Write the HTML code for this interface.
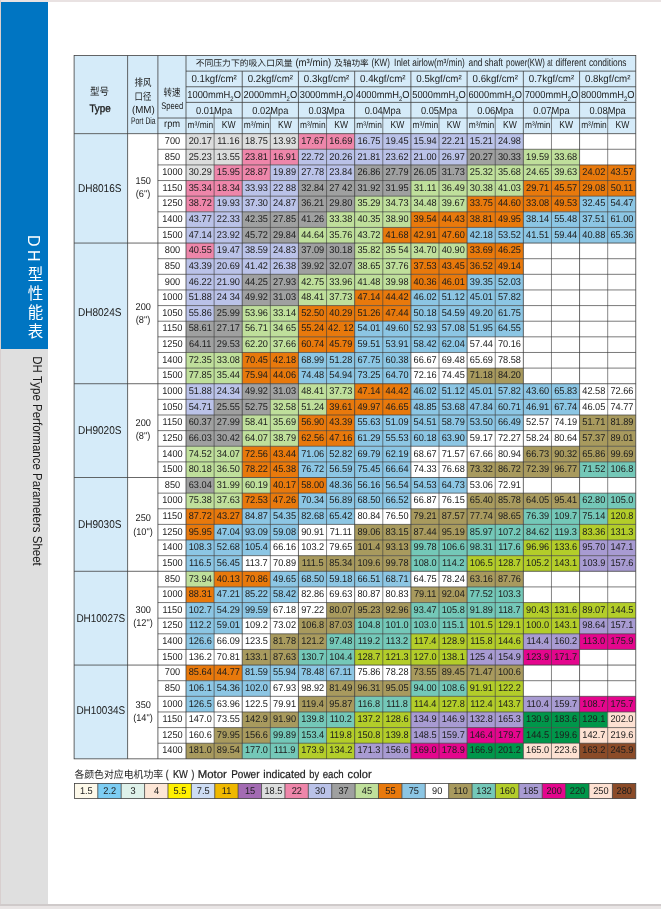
<!DOCTYPE html>
<html lang="zh-CN">
<head>
<meta charset="utf-8">
<title>DH型性能表 DH Type Performance Parameters Sheet</title>
<style>
html,body{margin:0;padding:0;background:#fff;}
body{width:661px;height:909px;overflow:hidden;position:relative;font-family:"Liberation Sans","Noto Sans CJK SC",sans-serif;}
svg{position:absolute;left:0;top:0;display:block;}
svg text{font-family:"Liberation Sans","Noto Sans CJK SC",sans-serif;text-rendering:geometricPrecision;}
.h9{font-size:9.6px}
.h8{font-size:8.5px}
.ht{font-size:10.6px}
.h10{font-size:10.2px}
.hb{font-size:11px;stroke:#1c1c1c;stroke-width:0.35px}
.d text{font-size:9.85px}
.d text.m{font-size:11.3px}
.lg{font-size:10.2px}
.ll{font-size:11.4px;stroke:#1c1c1c;stroke-width:0.22px}
.sb{font-size:13px}
.vt .la{font-size:16px;letter-spacing:3.4px;margin-inline-end:1.6px}
.vt{position:absolute;left:22.4px;top:235.4px;width:22px;writing-mode:vertical-rl;text-orientation:mixed;color:#fff;font-size:15.5px;line-height:22px;letter-spacing:3.6px;white-space:nowrap;}
</style>
</head>
<body>
<svg width="661" height="909" viewBox="0 0 661 909">
<g shape-rendering="crispEdges">
<rect x="0" y="0" width="661" height="909" fill="#ffffff"/>
<rect x="0" y="0" width="661" height="2" fill="#e9e2e2"/>
<rect x="0" y="0" width="1" height="909" fill="#d8cfcf"/>
<rect x="1" y="2" width="47" height="346.5" fill="#0075c2"/>
<rect x="1" y="348.5" width="47" height="556" fill="#dfdfdf"/>
<rect x="0" y="904" width="661" height="1.5" fill="#cfcaca"/>
<rect x="0" y="905.5" width="661" height="3.5" fill="#e9e5e5"/>
</g>
<g>
<rect x="74.1" y="55.5" width="561.7" height="78.15" fill="#d5ebf9"/>
<rect x="74.1" y="133.65" width="53.5" height="625.2" fill="#d5ebf9"/>
<rect x="186" y="133.65" width="112.45" height="15.63" fill="#dcdddd"/>
<rect x="298.45" y="133.65" width="56.22" height="15.63" fill="#ee86aa"/>
<rect x="354.67" y="133.65" width="168.67" height="15.63" fill="#bac2e8"/>
<rect x="186" y="149.28" width="56.22" height="15.63" fill="#dcdddd"/>
<rect x="242.22" y="149.28" width="56.22" height="15.63" fill="#ee86aa"/>
<rect x="298.45" y="149.28" width="168.67" height="15.63" fill="#bac2e8"/>
<rect x="467.12" y="149.28" width="56.22" height="15.63" fill="#9fa0a0"/>
<rect x="523.35" y="149.28" width="56.22" height="15.63" fill="#bfdf9b"/>
<rect x="186" y="164.91" width="28.11" height="15.63" fill="#dcdddd"/>
<rect x="214.11" y="164.91" width="56.22" height="15.63" fill="#ee86aa"/>
<rect x="270.34" y="164.91" width="84.34" height="15.63" fill="#bac2e8"/>
<rect x="354.67" y="164.91" width="112.45" height="15.63" fill="#9fa0a0"/>
<rect x="467.12" y="164.91" width="112.45" height="15.63" fill="#bfdf9b"/>
<rect x="579.57" y="164.91" width="56.22" height="15.63" fill="#e8790c"/>
<rect x="186" y="180.54" width="56.22" height="15.63" fill="#ee86aa"/>
<rect x="242.22" y="180.54" width="56.22" height="15.63" fill="#bac2e8"/>
<rect x="298.45" y="180.54" width="112.45" height="15.63" fill="#9fa0a0"/>
<rect x="410.9" y="180.54" width="112.45" height="15.63" fill="#bfdf9b"/>
<rect x="523.35" y="180.54" width="112.45" height="15.63" fill="#e8790c"/>
<rect x="186" y="196.17" width="28.11" height="15.63" fill="#ee86aa"/>
<rect x="214.11" y="196.17" width="84.34" height="15.63" fill="#bac2e8"/>
<rect x="298.45" y="196.17" width="56.22" height="15.63" fill="#9fa0a0"/>
<rect x="354.67" y="196.17" width="112.45" height="15.63" fill="#bfdf9b"/>
<rect x="467.12" y="196.17" width="112.45" height="15.63" fill="#e8790c"/>
<rect x="579.57" y="196.17" width="56.22" height="15.63" fill="#8cc6e4"/>
<rect x="186" y="211.8" width="56.22" height="15.63" fill="#bac2e8"/>
<rect x="242.22" y="211.8" width="84.34" height="15.63" fill="#9fa0a0"/>
<rect x="326.56" y="211.8" width="84.34" height="15.63" fill="#bfdf9b"/>
<rect x="410.9" y="211.8" width="112.45" height="15.63" fill="#e8790c"/>
<rect x="523.35" y="211.8" width="112.45" height="15.63" fill="#8cc6e4"/>
<rect x="186" y="227.43" width="56.22" height="15.63" fill="#bac2e8"/>
<rect x="242.22" y="227.43" width="56.22" height="15.63" fill="#9fa0a0"/>
<rect x="298.45" y="227.43" width="84.34" height="15.63" fill="#bfdf9b"/>
<rect x="382.79" y="227.43" width="84.34" height="15.63" fill="#e8790c"/>
<rect x="467.12" y="227.43" width="168.67" height="15.63" fill="#8cc6e4"/>
<rect x="186" y="243.06" width="28.11" height="15.63" fill="#ee86aa"/>
<rect x="214.11" y="243.06" width="84.34" height="15.63" fill="#bac2e8"/>
<rect x="298.45" y="243.06" width="56.22" height="15.63" fill="#9fa0a0"/>
<rect x="354.67" y="243.06" width="112.45" height="15.63" fill="#bfdf9b"/>
<rect x="467.12" y="243.06" width="56.22" height="15.63" fill="#e8790c"/>
<rect x="186" y="258.69" width="112.45" height="15.63" fill="#bac2e8"/>
<rect x="298.45" y="258.69" width="56.22" height="15.63" fill="#9fa0a0"/>
<rect x="354.67" y="258.69" width="56.22" height="15.63" fill="#bfdf9b"/>
<rect x="410.9" y="258.69" width="112.45" height="15.63" fill="#e8790c"/>
<rect x="186" y="274.32" width="56.22" height="15.63" fill="#bac2e8"/>
<rect x="242.22" y="274.32" width="56.22" height="15.63" fill="#9fa0a0"/>
<rect x="298.45" y="274.32" width="112.45" height="15.63" fill="#bfdf9b"/>
<rect x="410.9" y="274.32" width="56.22" height="15.63" fill="#e8790c"/>
<rect x="467.12" y="274.32" width="56.22" height="15.63" fill="#8cc6e4"/>
<rect x="186" y="289.95" width="56.22" height="15.63" fill="#bac2e8"/>
<rect x="242.22" y="289.95" width="56.22" height="15.63" fill="#9fa0a0"/>
<rect x="298.45" y="289.95" width="56.22" height="15.63" fill="#bfdf9b"/>
<rect x="354.67" y="289.95" width="56.22" height="15.63" fill="#e8790c"/>
<rect x="410.9" y="289.95" width="112.45" height="15.63" fill="#8cc6e4"/>
<rect x="186" y="305.58" width="28.11" height="15.63" fill="#bac2e8"/>
<rect x="214.11" y="305.58" width="28.11" height="15.63" fill="#9fa0a0"/>
<rect x="242.22" y="305.58" width="56.22" height="15.63" fill="#bfdf9b"/>
<rect x="298.45" y="305.58" width="112.45" height="15.63" fill="#e8790c"/>
<rect x="410.9" y="305.58" width="112.45" height="15.63" fill="#8cc6e4"/>
<rect x="186" y="321.21" width="56.22" height="15.63" fill="#9fa0a0"/>
<rect x="242.22" y="321.21" width="56.22" height="15.63" fill="#bfdf9b"/>
<rect x="298.45" y="321.21" width="56.22" height="15.63" fill="#e8790c"/>
<rect x="354.67" y="321.21" width="168.67" height="15.63" fill="#8cc6e4"/>
<rect x="186" y="336.84" width="56.22" height="15.63" fill="#9fa0a0"/>
<rect x="242.22" y="336.84" width="56.22" height="15.63" fill="#bfdf9b"/>
<rect x="298.45" y="336.84" width="56.22" height="15.63" fill="#e8790c"/>
<rect x="354.67" y="336.84" width="112.45" height="15.63" fill="#8cc6e4"/>
<rect x="186" y="352.47" width="56.22" height="15.63" fill="#bfdf9b"/>
<rect x="242.22" y="352.47" width="56.22" height="15.63" fill="#e8790c"/>
<rect x="298.45" y="352.47" width="112.45" height="15.63" fill="#8cc6e4"/>
<rect x="186" y="368.1" width="56.22" height="15.63" fill="#bfdf9b"/>
<rect x="242.22" y="368.1" width="56.22" height="15.63" fill="#e8790c"/>
<rect x="298.45" y="368.1" width="112.45" height="15.63" fill="#8cc6e4"/>
<rect x="467.12" y="368.1" width="56.22" height="15.63" fill="#a89a5e"/>
<rect x="186" y="383.73" width="56.22" height="15.63" fill="#bac2e8"/>
<rect x="242.22" y="383.73" width="56.22" height="15.63" fill="#9fa0a0"/>
<rect x="298.45" y="383.73" width="56.22" height="15.63" fill="#bfdf9b"/>
<rect x="354.67" y="383.73" width="56.22" height="15.63" fill="#e8790c"/>
<rect x="410.9" y="383.73" width="168.67" height="15.63" fill="#8cc6e4"/>
<rect x="186" y="399.36" width="28.11" height="15.63" fill="#bac2e8"/>
<rect x="214.11" y="399.36" width="56.22" height="15.63" fill="#9fa0a0"/>
<rect x="270.34" y="399.36" width="56.22" height="15.63" fill="#bfdf9b"/>
<rect x="326.56" y="399.36" width="84.34" height="15.63" fill="#e8790c"/>
<rect x="410.9" y="399.36" width="168.67" height="15.63" fill="#8cc6e4"/>
<rect x="186" y="414.99" width="56.22" height="15.63" fill="#9fa0a0"/>
<rect x="242.22" y="414.99" width="56.22" height="15.63" fill="#bfdf9b"/>
<rect x="298.45" y="414.99" width="56.22" height="15.63" fill="#e8790c"/>
<rect x="354.67" y="414.99" width="168.67" height="15.63" fill="#8cc6e4"/>
<rect x="579.57" y="414.99" width="56.22" height="15.63" fill="#a89a5e"/>
<rect x="186" y="430.62" width="56.22" height="15.63" fill="#9fa0a0"/>
<rect x="242.22" y="430.62" width="56.22" height="15.63" fill="#bfdf9b"/>
<rect x="298.45" y="430.62" width="56.22" height="15.63" fill="#e8790c"/>
<rect x="354.67" y="430.62" width="112.45" height="15.63" fill="#8cc6e4"/>
<rect x="579.57" y="430.62" width="56.22" height="15.63" fill="#a89a5e"/>
<rect x="186" y="446.25" width="56.22" height="15.63" fill="#bfdf9b"/>
<rect x="242.22" y="446.25" width="56.22" height="15.63" fill="#e8790c"/>
<rect x="298.45" y="446.25" width="112.45" height="15.63" fill="#8cc6e4"/>
<rect x="523.35" y="446.25" width="112.45" height="15.63" fill="#a89a5e"/>
<rect x="186" y="461.88" width="56.22" height="15.63" fill="#bfdf9b"/>
<rect x="242.22" y="461.88" width="56.22" height="15.63" fill="#e8790c"/>
<rect x="298.45" y="461.88" width="112.45" height="15.63" fill="#8cc6e4"/>
<rect x="467.12" y="461.88" width="112.45" height="15.63" fill="#a89a5e"/>
<rect x="579.57" y="461.88" width="56.22" height="15.63" fill="#74c8b8"/>
<rect x="186" y="477.51" width="28.11" height="15.63" fill="#9fa0a0"/>
<rect x="214.11" y="477.51" width="56.22" height="15.63" fill="#bfdf9b"/>
<rect x="270.34" y="477.51" width="56.22" height="15.63" fill="#e8790c"/>
<rect x="326.56" y="477.51" width="140.56" height="15.63" fill="#8cc6e4"/>
<rect x="186" y="493.14" width="56.22" height="15.63" fill="#bfdf9b"/>
<rect x="242.22" y="493.14" width="56.22" height="15.63" fill="#e8790c"/>
<rect x="298.45" y="493.14" width="112.45" height="15.63" fill="#8cc6e4"/>
<rect x="467.12" y="493.14" width="112.45" height="15.63" fill="#a89a5e"/>
<rect x="579.57" y="493.14" width="56.22" height="15.63" fill="#74c8b8"/>
<rect x="186" y="508.77" width="56.22" height="15.63" fill="#e8790c"/>
<rect x="242.22" y="508.77" width="112.45" height="15.63" fill="#8cc6e4"/>
<rect x="410.9" y="508.77" width="112.45" height="15.63" fill="#a89a5e"/>
<rect x="523.35" y="508.77" width="84.34" height="15.63" fill="#74c8b8"/>
<rect x="607.69" y="508.77" width="28.11" height="15.63" fill="#b3cd2a"/>
<rect x="186" y="524.4" width="28.11" height="15.63" fill="#e8790c"/>
<rect x="214.11" y="524.4" width="84.34" height="15.63" fill="#8cc6e4"/>
<rect x="354.67" y="524.4" width="112.45" height="15.63" fill="#a89a5e"/>
<rect x="467.12" y="524.4" width="112.45" height="15.63" fill="#74c8b8"/>
<rect x="579.57" y="524.4" width="56.22" height="15.63" fill="#b3cd2a"/>
<rect x="186" y="540.03" width="84.34" height="15.63" fill="#8cc6e4"/>
<rect x="354.67" y="540.03" width="56.22" height="15.63" fill="#a89a5e"/>
<rect x="410.9" y="540.03" width="112.45" height="15.63" fill="#74c8b8"/>
<rect x="523.35" y="540.03" width="56.22" height="15.63" fill="#b3cd2a"/>
<rect x="579.57" y="540.03" width="56.22" height="15.63" fill="#a89bd2"/>
<rect x="186" y="555.66" width="56.22" height="15.63" fill="#8cc6e4"/>
<rect x="298.45" y="555.66" width="112.45" height="15.63" fill="#a89a5e"/>
<rect x="410.9" y="555.66" width="56.22" height="15.63" fill="#74c8b8"/>
<rect x="467.12" y="555.66" width="112.45" height="15.63" fill="#b3cd2a"/>
<rect x="579.57" y="555.66" width="56.22" height="15.63" fill="#a89bd2"/>
<rect x="186" y="571.29" width="28.11" height="15.63" fill="#bfdf9b"/>
<rect x="214.11" y="571.29" width="56.22" height="15.63" fill="#e8790c"/>
<rect x="270.34" y="571.29" width="140.56" height="15.63" fill="#8cc6e4"/>
<rect x="467.12" y="571.29" width="56.22" height="15.63" fill="#a89a5e"/>
<rect x="186" y="586.92" width="28.11" height="15.63" fill="#e8790c"/>
<rect x="214.11" y="586.92" width="84.34" height="15.63" fill="#8cc6e4"/>
<rect x="410.9" y="586.92" width="56.22" height="15.63" fill="#a89a5e"/>
<rect x="467.12" y="586.92" width="56.22" height="15.63" fill="#74c8b8"/>
<rect x="186" y="602.55" width="84.34" height="15.63" fill="#8cc6e4"/>
<rect x="326.56" y="602.55" width="84.34" height="15.63" fill="#a89a5e"/>
<rect x="410.9" y="602.55" width="112.45" height="15.63" fill="#74c8b8"/>
<rect x="523.35" y="602.55" width="112.45" height="15.63" fill="#b3cd2a"/>
<rect x="186" y="618.18" width="56.22" height="15.63" fill="#8cc6e4"/>
<rect x="298.45" y="618.18" width="56.22" height="15.63" fill="#a89a5e"/>
<rect x="354.67" y="618.18" width="112.45" height="15.63" fill="#74c8b8"/>
<rect x="467.12" y="618.18" width="112.45" height="15.63" fill="#b3cd2a"/>
<rect x="579.57" y="618.18" width="56.22" height="15.63" fill="#a89bd2"/>
<rect x="186" y="633.81" width="28.11" height="15.63" fill="#8cc6e4"/>
<rect x="270.34" y="633.81" width="56.22" height="15.63" fill="#a89a5e"/>
<rect x="326.56" y="633.81" width="84.34" height="15.63" fill="#74c8b8"/>
<rect x="410.9" y="633.81" width="112.45" height="15.63" fill="#b3cd2a"/>
<rect x="523.35" y="633.81" width="56.22" height="15.63" fill="#a89bd2"/>
<rect x="579.57" y="633.81" width="56.22" height="15.63" fill="#e4068d"/>
<rect x="242.22" y="649.44" width="56.22" height="15.63" fill="#a89a5e"/>
<rect x="298.45" y="649.44" width="56.22" height="15.63" fill="#74c8b8"/>
<rect x="354.67" y="649.44" width="112.45" height="15.63" fill="#b3cd2a"/>
<rect x="467.12" y="649.44" width="56.22" height="15.63" fill="#a89bd2"/>
<rect x="523.35" y="649.44" width="56.22" height="15.63" fill="#e4068d"/>
<rect x="186" y="665.07" width="56.22" height="15.63" fill="#e8790c"/>
<rect x="242.22" y="665.07" width="112.45" height="15.63" fill="#8cc6e4"/>
<rect x="410.9" y="665.07" width="112.45" height="15.63" fill="#a89a5e"/>
<rect x="186" y="680.7" width="84.34" height="15.63" fill="#8cc6e4"/>
<rect x="326.56" y="680.7" width="84.34" height="15.63" fill="#a89a5e"/>
<rect x="410.9" y="680.7" width="56.22" height="15.63" fill="#74c8b8"/>
<rect x="467.12" y="680.7" width="56.22" height="15.63" fill="#b3cd2a"/>
<rect x="186" y="696.33" width="28.11" height="15.63" fill="#8cc6e4"/>
<rect x="298.45" y="696.33" width="56.22" height="15.63" fill="#a89a5e"/>
<rect x="354.67" y="696.33" width="56.22" height="15.63" fill="#74c8b8"/>
<rect x="410.9" y="696.33" width="112.45" height="15.63" fill="#b3cd2a"/>
<rect x="523.35" y="696.33" width="56.22" height="15.63" fill="#a89bd2"/>
<rect x="579.57" y="696.33" width="56.22" height="15.63" fill="#e4068d"/>
<rect x="242.22" y="711.96" width="56.22" height="15.63" fill="#a89a5e"/>
<rect x="298.45" y="711.96" width="56.22" height="15.63" fill="#74c8b8"/>
<rect x="354.67" y="711.96" width="56.22" height="15.63" fill="#b3cd2a"/>
<rect x="410.9" y="711.96" width="112.45" height="15.63" fill="#a89bd2"/>
<rect x="523.35" y="711.96" width="84.34" height="15.63" fill="#00964a"/>
<rect x="607.69" y="711.96" width="28.11" height="15.63" fill="#fde1d2"/>
<rect x="214.11" y="727.59" width="56.22" height="15.63" fill="#a89a5e"/>
<rect x="270.34" y="727.59" width="56.22" height="15.63" fill="#74c8b8"/>
<rect x="326.56" y="727.59" width="84.34" height="15.63" fill="#b3cd2a"/>
<rect x="410.9" y="727.59" width="56.22" height="15.63" fill="#a89bd2"/>
<rect x="467.12" y="727.59" width="56.22" height="15.63" fill="#e4068d"/>
<rect x="523.35" y="727.59" width="56.22" height="15.63" fill="#00964a"/>
<rect x="579.57" y="727.59" width="56.22" height="15.63" fill="#fde1d2"/>
<rect x="186" y="743.22" width="56.22" height="15.63" fill="#a89a5e"/>
<rect x="242.22" y="743.22" width="56.22" height="15.63" fill="#74c8b8"/>
<rect x="298.45" y="743.22" width="56.22" height="15.63" fill="#b3cd2a"/>
<rect x="354.67" y="743.22" width="56.22" height="15.63" fill="#a89bd2"/>
<rect x="410.9" y="743.22" width="56.22" height="15.63" fill="#e4068d"/>
<rect x="467.12" y="743.22" width="56.22" height="15.63" fill="#00964a"/>
<rect x="523.35" y="743.22" width="56.22" height="15.63" fill="#fde1d2"/>
<rect x="579.57" y="743.22" width="56.22" height="15.63" fill="#8b4b28"/>
</g>
<g stroke="#3c3c3c" stroke-width="0.78" fill="none">
<rect x="74.1" y="55.5" width="561.7" height="703.35"/>
<path d="M186 71.13L635.8 71.13"/>
<path d="M186 86.76L635.8 86.76"/>
<path d="M186 102.39L635.8 102.39"/>
<path d="M186 118.02L635.8 118.02"/>
<path d="M157.9 118.02L186 118.02"/>
<path d="M74.1 133.65L635.8 133.65"/>
<path d="M127.6 55.5L127.6 758.85"/>
<path d="M157.9 55.5L157.9 758.85"/>
<path d="M186 55.5L186 758.85"/>
<path d="M214.11 111.89L214.11 758.85" stroke-width="0.62"/>
<path d="M242.22 71.13L242.22 758.85"/>
<path d="M270.34 111.89L270.34 758.85" stroke-width="0.62"/>
<path d="M298.45 71.13L298.45 758.85"/>
<path d="M326.56 111.89L326.56 758.85" stroke-width="0.62"/>
<path d="M354.67 71.13L354.67 758.85"/>
<path d="M382.79 111.89L382.79 758.85" stroke-width="0.62"/>
<path d="M410.9 71.13L410.9 758.85"/>
<path d="M439.01 111.89L439.01 758.85" stroke-width="0.62"/>
<path d="M467.12 71.13L467.12 758.85"/>
<path d="M495.24 111.89L495.24 758.85" stroke-width="0.62"/>
<path d="M523.35 71.13L523.35 758.85"/>
<path d="M551.46 111.89L551.46 758.85" stroke-width="0.62"/>
<path d="M579.57 71.13L579.57 758.85"/>
<path d="M607.69 111.89L607.69 758.85" stroke-width="0.62"/>
<path d="M157.9 149.28L635.8 149.28" stroke-width="0.68"/>
<path d="M157.9 164.91L635.8 164.91" stroke-width="0.68"/>
<path d="M157.9 180.54L635.8 180.54" stroke-width="0.68"/>
<path d="M157.9 196.17L635.8 196.17" stroke-width="0.68"/>
<path d="M157.9 211.8L635.8 211.8" stroke-width="0.68"/>
<path d="M157.9 227.43L635.8 227.43" stroke-width="0.68"/>
<path d="M74.1 243.06L635.8 243.06"/>
<path d="M157.9 258.69L635.8 258.69" stroke-width="0.68"/>
<path d="M157.9 274.32L635.8 274.32" stroke-width="0.68"/>
<path d="M157.9 289.95L635.8 289.95" stroke-width="0.68"/>
<path d="M157.9 305.58L635.8 305.58" stroke-width="0.68"/>
<path d="M157.9 321.21L635.8 321.21" stroke-width="0.68"/>
<path d="M157.9 336.84L635.8 336.84" stroke-width="0.68"/>
<path d="M157.9 352.47L635.8 352.47" stroke-width="0.68"/>
<path d="M157.9 368.1L635.8 368.1" stroke-width="0.68"/>
<path d="M74.1 383.73L635.8 383.73"/>
<path d="M157.9 399.36L635.8 399.36" stroke-width="0.68"/>
<path d="M157.9 414.99L635.8 414.99" stroke-width="0.68"/>
<path d="M157.9 430.62L635.8 430.62" stroke-width="0.68"/>
<path d="M157.9 446.25L635.8 446.25" stroke-width="0.68"/>
<path d="M157.9 461.88L635.8 461.88" stroke-width="0.68"/>
<path d="M74.1 477.51L635.8 477.51"/>
<path d="M157.9 493.14L635.8 493.14" stroke-width="0.68"/>
<path d="M157.9 508.77L635.8 508.77" stroke-width="0.68"/>
<path d="M157.9 524.4L635.8 524.4" stroke-width="0.68"/>
<path d="M157.9 540.03L635.8 540.03" stroke-width="0.68"/>
<path d="M157.9 555.66L635.8 555.66" stroke-width="0.68"/>
<path d="M74.1 571.29L635.8 571.29"/>
<path d="M157.9 586.92L635.8 586.92" stroke-width="0.68"/>
<path d="M157.9 602.55L635.8 602.55" stroke-width="0.68"/>
<path d="M157.9 618.18L635.8 618.18" stroke-width="0.68"/>
<path d="M157.9 633.81L635.8 633.81" stroke-width="0.68"/>
<path d="M157.9 649.44L635.8 649.44" stroke-width="0.68"/>
<path d="M74.1 665.07L635.8 665.07"/>
<path d="M157.9 680.7L635.8 680.7" stroke-width="0.68"/>
<path d="M157.9 696.33L635.8 696.33" stroke-width="0.68"/>
<path d="M157.9 711.96L635.8 711.96" stroke-width="0.68"/>
<path d="M157.9 727.59L635.8 727.59" stroke-width="0.68"/>
<path d="M157.9 743.22L635.8 743.22" stroke-width="0.68"/>
</g>
<g fill="#1c1c1c">
<text x="195.7" y="66.13" class="h8" textLength="96.9" lengthAdjust="spacingAndGlyphs">不同压力下的吸入口风量</text>
<text x="295.4" y="66.13" class="ht" textLength="35.8" lengthAdjust="spacingAndGlyphs">(m³/min)</text>
<text x="334.3" y="66.13" class="h8" textLength="34.4" lengthAdjust="spacingAndGlyphs">及轴功率</text>
<text x="371.6" y="66.13" class="ht" textLength="18.2" lengthAdjust="spacingAndGlyphs">(KW)</text>
<text x="394.1" y="66.13" class="ht" textLength="15.8" lengthAdjust="spacingAndGlyphs">Inlet</text>
<text x="412.3" y="66.13" class="ht" textLength="52.5" lengthAdjust="spacingAndGlyphs">airlow(m³/min)</text>
<text x="468.5" y="66.13" class="ht" textLength="14" lengthAdjust="spacingAndGlyphs">and</text>
<text x="484.4" y="66.13" class="ht" textLength="18.6" lengthAdjust="spacingAndGlyphs">shaft</text>
<text x="506.1" y="66.13" class="ht" textLength="38.8" lengthAdjust="spacingAndGlyphs">power(KW)</text>
<text x="547.3" y="66.13" class="ht" textLength="5.3" lengthAdjust="spacingAndGlyphs">at</text>
<text x="555.5" y="66.13" class="ht" textLength="30.5" lengthAdjust="spacingAndGlyphs">different</text>
<text x="588.9" y="66.13" class="ht" textLength="37.6" lengthAdjust="spacingAndGlyphs">conditions</text>
<text x="191.41" y="82.46" class="h10" textLength="45.4" lengthAdjust="spacingAndGlyphs">0.1kgf/cm²</text>
<text x="187.31" y="97.79" class="h10" textLength="53.6" lengthAdjust="spacingAndGlyphs">1000mmH<tspan dy="2.8" font-size="6.5">2</tspan><tspan dy="-2.8">O</tspan></text>
<text x="196.01" y="113.72" class="h10" textLength="36.2" lengthAdjust="spacingAndGlyphs">0.01Mpa</text>
<text x="187.56" y="128.45" class="h9" textLength="25.6" lengthAdjust="spacingAndGlyphs">m³/min</text>
<text x="221.87" y="128.45" class="h10" textLength="13.8" lengthAdjust="spacingAndGlyphs">KW</text>
<text x="247.64" y="82.46" class="h10" textLength="45.4" lengthAdjust="spacingAndGlyphs">0.2kgf/cm²</text>
<text x="243.54" y="97.79" class="h10" textLength="53.6" lengthAdjust="spacingAndGlyphs">2000mmH<tspan dy="2.8" font-size="6.5">2</tspan><tspan dy="-2.8">O</tspan></text>
<text x="252.24" y="113.72" class="h10" textLength="36.2" lengthAdjust="spacingAndGlyphs">0.02Mpa</text>
<text x="243.78" y="128.45" class="h9" textLength="25.6" lengthAdjust="spacingAndGlyphs">m³/min</text>
<text x="278.09" y="128.45" class="h10" textLength="13.8" lengthAdjust="spacingAndGlyphs">KW</text>
<text x="303.86" y="82.46" class="h10" textLength="45.4" lengthAdjust="spacingAndGlyphs">0.3kgf/cm²</text>
<text x="299.76" y="97.79" class="h10" textLength="53.6" lengthAdjust="spacingAndGlyphs">3000mmH<tspan dy="2.8" font-size="6.5">2</tspan><tspan dy="-2.8">O</tspan></text>
<text x="308.46" y="113.72" class="h10" textLength="36.2" lengthAdjust="spacingAndGlyphs">0.03Mpa</text>
<text x="300.01" y="128.45" class="h9" textLength="25.6" lengthAdjust="spacingAndGlyphs">m³/min</text>
<text x="334.32" y="128.45" class="h10" textLength="13.8" lengthAdjust="spacingAndGlyphs">KW</text>
<text x="360.09" y="82.46" class="h10" textLength="45.4" lengthAdjust="spacingAndGlyphs">0.4kgf/cm²</text>
<text x="355.99" y="97.79" class="h10" textLength="53.6" lengthAdjust="spacingAndGlyphs">4000mmH<tspan dy="2.8" font-size="6.5">2</tspan><tspan dy="-2.8">O</tspan></text>
<text x="364.69" y="113.72" class="h10" textLength="36.2" lengthAdjust="spacingAndGlyphs">0.04Mpa</text>
<text x="356.23" y="128.45" class="h9" textLength="25.6" lengthAdjust="spacingAndGlyphs">m³/min</text>
<text x="390.54" y="128.45" class="h10" textLength="13.8" lengthAdjust="spacingAndGlyphs">KW</text>
<text x="416.31" y="82.46" class="h10" textLength="45.4" lengthAdjust="spacingAndGlyphs">0.5kgf/cm²</text>
<text x="412.21" y="97.79" class="h10" textLength="53.6" lengthAdjust="spacingAndGlyphs">5000mmH<tspan dy="2.8" font-size="6.5">2</tspan><tspan dy="-2.8">O</tspan></text>
<text x="420.91" y="113.72" class="h10" textLength="36.2" lengthAdjust="spacingAndGlyphs">0.05Mpa</text>
<text x="412.46" y="128.45" class="h9" textLength="25.6" lengthAdjust="spacingAndGlyphs">m³/min</text>
<text x="446.77" y="128.45" class="h10" textLength="13.8" lengthAdjust="spacingAndGlyphs">KW</text>
<text x="472.54" y="82.46" class="h10" textLength="45.4" lengthAdjust="spacingAndGlyphs">0.6kgf/cm²</text>
<text x="468.44" y="97.79" class="h10" textLength="53.6" lengthAdjust="spacingAndGlyphs">6000mmH<tspan dy="2.8" font-size="6.5">2</tspan><tspan dy="-2.8">O</tspan></text>
<text x="477.14" y="113.72" class="h10" textLength="36.2" lengthAdjust="spacingAndGlyphs">0.06Mpa</text>
<text x="468.68" y="128.45" class="h9" textLength="25.6" lengthAdjust="spacingAndGlyphs">m³/min</text>
<text x="502.99" y="128.45" class="h10" textLength="13.8" lengthAdjust="spacingAndGlyphs">KW</text>
<text x="528.76" y="82.46" class="h10" textLength="45.4" lengthAdjust="spacingAndGlyphs">0.7kgf/cm²</text>
<text x="524.66" y="97.79" class="h10" textLength="53.6" lengthAdjust="spacingAndGlyphs">7000mmH<tspan dy="2.8" font-size="6.5">2</tspan><tspan dy="-2.8">O</tspan></text>
<text x="533.36" y="113.72" class="h10" textLength="36.2" lengthAdjust="spacingAndGlyphs">0.07Mpa</text>
<text x="524.91" y="128.45" class="h9" textLength="25.6" lengthAdjust="spacingAndGlyphs">m³/min</text>
<text x="559.22" y="128.45" class="h10" textLength="13.8" lengthAdjust="spacingAndGlyphs">KW</text>
<text x="584.99" y="82.46" class="h10" textLength="45.4" lengthAdjust="spacingAndGlyphs">0.8kgf/cm²</text>
<text x="580.89" y="97.79" class="h10" textLength="53.6" lengthAdjust="spacingAndGlyphs">8000mmH<tspan dy="2.8" font-size="6.5">2</tspan><tspan dy="-2.8">O</tspan></text>
<text x="589.59" y="113.72" class="h10" textLength="36.2" lengthAdjust="spacingAndGlyphs">0.08Mpa</text>
<text x="581.13" y="128.45" class="h9" textLength="25.6" lengthAdjust="spacingAndGlyphs">m³/min</text>
<text x="615.44" y="128.45" class="h10" textLength="13.8" lengthAdjust="spacingAndGlyphs">KW</text>
<text x="90.1" y="95.4" class="h10" textLength="19" lengthAdjust="spacingAndGlyphs">型号</text>
<text x="89.4" y="112.1" class="hb" textLength="21.4" lengthAdjust="spacingAndGlyphs">Type</text>
<text x="134.5" y="86.2" class="h10" textLength="16.8" lengthAdjust="spacingAndGlyphs">排风</text>
<text x="134.5" y="99.5" class="h10" textLength="16.8" lengthAdjust="spacingAndGlyphs">口径</text>
<text x="131.9" y="112.9" class="h10" textLength="22.8" lengthAdjust="spacingAndGlyphs">(MM)</text>
<text x="131" y="123.6" class="h9" textLength="24.6" lengthAdjust="spacingAndGlyphs">Port Dia</text>
<text x="163.5" y="96" class="h10" textLength="17" lengthAdjust="spacingAndGlyphs">转速</text>
<text x="161.2" y="108.6" class="h9" textLength="22" lengthAdjust="spacingAndGlyphs">Speed</text>
<text x="164" y="126.6" class="h10" textLength="16.2" lengthAdjust="spacingAndGlyphs">rpm</text>
</g>
<g class="d" fill="#1c1c1c" text-anchor="middle" transform="scale(0.935 1)">
<text class="m" text-anchor="start" x="83.32" y="191.81" textLength="46.63" lengthAdjust="spacingAndGlyphs">DH8016S</text>
<text x="153.16" y="183.51">150</text>
<text x="152.94" y="196.71">(6")</text>
<text x="184.44" y="143.91">700</text>
<text x="214.18" y="143.91">20.17</text>
<text x="244.24" y="143.91">11.16</text>
<text x="274.31" y="143.91">18.75</text>
<text x="304.38" y="143.91">13.93</text>
<text x="334.45" y="143.91">17.67</text>
<text x="364.51" y="143.91">16.69</text>
<text x="394.58" y="143.91">16.75</text>
<text x="424.65" y="143.91">19.45</text>
<text x="454.71" y="143.91">15.94</text>
<text x="484.78" y="143.91">22.21</text>
<text x="514.85" y="143.91">15.21</text>
<text x="544.91" y="143.91">24.98</text>
<text x="184.44" y="159.54">850</text>
<text x="214.18" y="159.54">25.23</text>
<text x="244.24" y="159.54">13.55</text>
<text x="274.31" y="159.54">23.81</text>
<text x="304.38" y="159.54">16.91</text>
<text x="334.45" y="159.54">22.72</text>
<text x="364.51" y="159.54">20.26</text>
<text x="394.58" y="159.54">21.81</text>
<text x="424.65" y="159.54">23.62</text>
<text x="454.71" y="159.54">21.00</text>
<text x="484.78" y="159.54">26.97</text>
<text x="514.85" y="159.54">20.27</text>
<text x="544.91" y="159.54">30.33</text>
<text x="574.98" y="159.54">19.59</text>
<text x="605.05" y="159.54">33.68</text>
<text x="184.44" y="175.17">1000</text>
<text x="214.18" y="175.17">30.29</text>
<text x="244.24" y="175.17">15.95</text>
<text x="274.31" y="175.17">28.87</text>
<text x="304.38" y="175.17">19.89</text>
<text x="334.45" y="175.17">27.78</text>
<text x="364.51" y="175.17">23.84</text>
<text x="394.58" y="175.17">26.86</text>
<text x="424.65" y="175.17">27.79</text>
<text x="454.71" y="175.17">26.05</text>
<text x="484.78" y="175.17">31.73</text>
<text x="514.85" y="175.17">25.32</text>
<text x="544.91" y="175.17">35.68</text>
<text x="574.98" y="175.17">24.65</text>
<text x="605.05" y="175.17">39.63</text>
<text x="635.11" y="175.17">24.02</text>
<text x="665.18" y="175.17">43.57</text>
<text x="184.44" y="190.81">1150</text>
<text x="214.18" y="190.81">35.34</text>
<text x="244.24" y="190.81">18.34</text>
<text x="274.31" y="190.81">33.93</text>
<text x="304.38" y="190.81">22 88</text>
<text x="334.45" y="190.81">32.84</text>
<text x="364.51" y="190.81">27 42</text>
<text x="394.58" y="190.81">31.92</text>
<text x="424.65" y="190.81">31.95</text>
<text x="454.71" y="190.81">31.11</text>
<text x="484.78" y="190.81">36.49</text>
<text x="514.85" y="190.81">30.38</text>
<text x="544.91" y="190.81">41.03</text>
<text x="574.98" y="190.81">29.71</text>
<text x="605.05" y="190.81">45.57</text>
<text x="635.11" y="190.81">29.08</text>
<text x="665.18" y="190.81">50.11</text>
<text x="184.44" y="206.44">1250</text>
<text x="214.18" y="206.44">38.72</text>
<text x="244.24" y="206.44">19.93</text>
<text x="274.31" y="206.44">37.30</text>
<text x="304.38" y="206.44">24.87</text>
<text x="334.45" y="206.44">36.21</text>
<text x="364.51" y="206.44">29.80</text>
<text x="394.58" y="206.44">35.29</text>
<text x="424.65" y="206.44">34.73</text>
<text x="454.71" y="206.44">34.48</text>
<text x="484.78" y="206.44">39.67</text>
<text x="514.85" y="206.44">33.75</text>
<text x="544.91" y="206.44">44.60</text>
<text x="574.98" y="206.44">33.08</text>
<text x="605.05" y="206.44">49.53</text>
<text x="635.11" y="206.44">32.45</text>
<text x="665.18" y="206.44">54.47</text>
<text x="184.44" y="222.06">1400</text>
<text x="214.18" y="222.06">43.77</text>
<text x="244.24" y="222.06">22.33</text>
<text x="274.31" y="222.06">42.35</text>
<text x="304.38" y="222.06">27.85</text>
<text x="334.45" y="222.06">41.26</text>
<text x="364.51" y="222.06">33.38</text>
<text x="394.58" y="222.06">40.35</text>
<text x="424.65" y="222.06">38.90</text>
<text x="454.71" y="222.06">39.54</text>
<text x="484.78" y="222.06">44.43</text>
<text x="514.85" y="222.06">38.81</text>
<text x="544.91" y="222.06">49.95</text>
<text x="574.98" y="222.06">38.14</text>
<text x="605.05" y="222.06">55.48</text>
<text x="635.11" y="222.06">37.51</text>
<text x="665.18" y="222.06">61.00</text>
<text x="184.44" y="237.69">1500</text>
<text x="214.18" y="237.69">47.14</text>
<text x="244.24" y="237.69">23.92</text>
<text x="274.31" y="237.69">45.72</text>
<text x="304.38" y="237.69">29.84</text>
<text x="334.45" y="237.69">44.64</text>
<text x="364.51" y="237.69">35.76</text>
<text x="394.58" y="237.69">43.72</text>
<text x="424.65" y="237.69">41.68</text>
<text x="454.71" y="237.69">42.91</text>
<text x="484.78" y="237.69">47.60</text>
<text x="514.85" y="237.69">42.18</text>
<text x="544.91" y="237.69">53.52</text>
<text x="574.98" y="237.69">41.51</text>
<text x="605.05" y="237.69">59.44</text>
<text x="635.11" y="237.69">40.88</text>
<text x="665.18" y="237.69">65.36</text>
<text class="m" text-anchor="start" x="83.32" y="316.44" textLength="46.63" lengthAdjust="spacingAndGlyphs">DH8024S</text>
<text x="153.16" y="309.89">200</text>
<text x="152.94" y="323.19">(8")</text>
<text x="184.44" y="253.32">800</text>
<text x="214.18" y="253.32">40.55</text>
<text x="244.24" y="253.32">19.47</text>
<text x="274.31" y="253.32">38.59</text>
<text x="304.38" y="253.32">24.83</text>
<text x="334.45" y="253.32">37.09</text>
<text x="364.51" y="253.32">30.18</text>
<text x="394.58" y="253.32">35.82</text>
<text x="424.65" y="253.32">35 54</text>
<text x="454.71" y="253.32">34.70</text>
<text x="484.78" y="253.32">40.90</text>
<text x="514.85" y="253.32">33.69</text>
<text x="544.91" y="253.32">46.25</text>
<text x="184.44" y="268.95">850</text>
<text x="214.18" y="268.95">43.39</text>
<text x="244.24" y="268.95">20.69</text>
<text x="274.31" y="268.95">41.42</text>
<text x="304.38" y="268.95">26.38</text>
<text x="334.45" y="268.95">39.92</text>
<text x="364.51" y="268.95">32.07</text>
<text x="394.58" y="268.95">38.65</text>
<text x="424.65" y="268.95">37.76</text>
<text x="454.71" y="268.95">37.53</text>
<text x="484.78" y="268.95">43.45</text>
<text x="514.85" y="268.95">36.52</text>
<text x="544.91" y="268.95">49.14</text>
<text x="184.44" y="284.59">900</text>
<text x="214.18" y="284.59">46.22</text>
<text x="244.24" y="284.59">21.90</text>
<text x="274.31" y="284.59">44.25</text>
<text x="304.38" y="284.59">27.93</text>
<text x="334.45" y="284.59">42.75</text>
<text x="364.51" y="284.59">33.96</text>
<text x="394.58" y="284.59">41.48</text>
<text x="424.65" y="284.59">39.98</text>
<text x="454.71" y="284.59">40.36</text>
<text x="484.78" y="284.59">46.01</text>
<text x="514.85" y="284.59">39.35</text>
<text x="544.91" y="284.59">52.03</text>
<text x="184.44" y="300.22">1000</text>
<text x="214.18" y="300.22">51.88</text>
<text x="244.24" y="300.22">24 34</text>
<text x="274.31" y="300.22">49.92</text>
<text x="304.38" y="300.22">31.03</text>
<text x="334.45" y="300.22">48.41</text>
<text x="364.51" y="300.22">37.73</text>
<text x="394.58" y="300.22">47.14</text>
<text x="424.65" y="300.22">44.42</text>
<text x="454.71" y="300.22">46.02</text>
<text x="484.78" y="300.22">51.12</text>
<text x="514.85" y="300.22">45.01</text>
<text x="544.91" y="300.22">57.82</text>
<text x="184.44" y="315.85">1050</text>
<text x="214.18" y="315.85">55.86</text>
<text x="244.24" y="315.85">25.99</text>
<text x="274.31" y="315.85">53.96</text>
<text x="304.38" y="315.85">33.14</text>
<text x="334.45" y="315.85">52.50</text>
<text x="364.51" y="315.85">40.29</text>
<text x="394.58" y="315.85">51.26</text>
<text x="424.65" y="315.85">47.44</text>
<text x="454.71" y="315.85">50.18</text>
<text x="484.78" y="315.85">54.59</text>
<text x="514.85" y="315.85">49.20</text>
<text x="544.91" y="315.85">61.75</text>
<text x="184.44" y="331.48">1150</text>
<text x="214.18" y="331.48">58.61</text>
<text x="244.24" y="331.48">27.17</text>
<text x="274.31" y="331.48">56.71</text>
<text x="304.38" y="331.48">34 65</text>
<text x="334.45" y="331.48">55.24</text>
<text x="364.51" y="331.48">42. 12</text>
<text x="394.58" y="331.48">54.01</text>
<text x="424.65" y="331.48">49.60</text>
<text x="454.71" y="331.48">52.93</text>
<text x="484.78" y="331.48">57.08</text>
<text x="514.85" y="331.48">51.95</text>
<text x="544.91" y="331.48">64.55</text>
<text x="184.44" y="347.11">1250</text>
<text x="214.18" y="347.11">64.11</text>
<text x="244.24" y="347.11">29.53</text>
<text x="274.31" y="347.11">62.20</text>
<text x="304.38" y="347.11">37.66</text>
<text x="334.45" y="347.11">60.74</text>
<text x="364.51" y="347.11">45.79</text>
<text x="394.58" y="347.11">59.51</text>
<text x="424.65" y="347.11">53.91</text>
<text x="454.71" y="347.11">58.42</text>
<text x="484.78" y="347.11">62.04</text>
<text x="514.85" y="347.11">57.44</text>
<text x="544.91" y="347.11">70.16</text>
<text x="184.44" y="362.74">1400</text>
<text x="214.18" y="362.74">72.35</text>
<text x="244.24" y="362.74">33.08</text>
<text x="274.31" y="362.74">70.45</text>
<text x="304.38" y="362.74">42.18</text>
<text x="334.45" y="362.74">68.99</text>
<text x="364.51" y="362.74">51.28</text>
<text x="394.58" y="362.74">67.75</text>
<text x="424.65" y="362.74">60.38</text>
<text x="454.71" y="362.74">66.67</text>
<text x="484.78" y="362.74">69.48</text>
<text x="514.85" y="362.74">65.69</text>
<text x="544.91" y="362.74">78.58</text>
<text x="184.44" y="378.37">1500</text>
<text x="214.18" y="378.37">77.85</text>
<text x="244.24" y="378.37">35.44</text>
<text x="274.31" y="378.37">75.94</text>
<text x="304.38" y="378.37">44.06</text>
<text x="334.45" y="378.37">74.48</text>
<text x="364.51" y="378.37">54.94</text>
<text x="394.58" y="378.37">73.25</text>
<text x="424.65" y="378.37">64.70</text>
<text x="454.71" y="378.37">72.16</text>
<text x="484.78" y="378.37">74.45</text>
<text x="514.85" y="378.37">71.18</text>
<text x="544.91" y="378.37">84.20</text>
<text class="m" text-anchor="start" x="83.32" y="434.12" textLength="46.63" lengthAdjust="spacingAndGlyphs">DH9020S</text>
<text x="153.16" y="425.62">200</text>
<text x="152.94" y="439.42">(8")</text>
<text x="184.44" y="394">1000</text>
<text x="214.18" y="394">51.88</text>
<text x="244.24" y="394">24.34</text>
<text x="274.31" y="394">49.92</text>
<text x="304.38" y="394">31.03</text>
<text x="334.45" y="394">48.41</text>
<text x="364.51" y="394">37.73</text>
<text x="394.58" y="394">47.14</text>
<text x="424.65" y="394">44.42</text>
<text x="454.71" y="394">46.02</text>
<text x="484.78" y="394">51.12</text>
<text x="514.85" y="394">45.01</text>
<text x="544.91" y="394">57.82</text>
<text x="574.98" y="394">43.60</text>
<text x="605.05" y="394">65.83</text>
<text x="635.11" y="394">42.58</text>
<text x="665.18" y="394">72.66</text>
<text x="184.44" y="409.62">1050</text>
<text x="214.18" y="409.62">54.71</text>
<text x="244.24" y="409.62">25.55</text>
<text x="274.31" y="409.62">52.75</text>
<text x="304.38" y="409.62">32.58</text>
<text x="334.45" y="409.62">51.24</text>
<text x="364.51" y="409.62">39.61</text>
<text x="394.58" y="409.62">49.97</text>
<text x="424.65" y="409.62">46.65</text>
<text x="454.71" y="409.62">48.85</text>
<text x="484.78" y="409.62">53.68</text>
<text x="514.85" y="409.62">47.84</text>
<text x="544.91" y="409.62">60.71</text>
<text x="574.98" y="409.62">46.91</text>
<text x="605.05" y="409.62">67.74</text>
<text x="635.11" y="409.62">46.05</text>
<text x="665.18" y="409.62">74.77</text>
<text x="184.44" y="425.25">1150</text>
<text x="214.18" y="425.25">60.37</text>
<text x="244.24" y="425.25">27.99</text>
<text x="274.31" y="425.25">58.41</text>
<text x="304.38" y="425.25">35.69</text>
<text x="334.45" y="425.25">56.90</text>
<text x="364.51" y="425.25">43.39</text>
<text x="394.58" y="425.25">55.63</text>
<text x="424.65" y="425.25">51.09</text>
<text x="454.71" y="425.25">54.51</text>
<text x="484.78" y="425.25">58.79</text>
<text x="514.85" y="425.25">53.50</text>
<text x="544.91" y="425.25">66.49</text>
<text x="574.98" y="425.25">52.57</text>
<text x="605.05" y="425.25">74.19</text>
<text x="635.11" y="425.25">51.71</text>
<text x="665.18" y="425.25">81.89</text>
<text x="184.44" y="440.88">1250</text>
<text x="214.18" y="440.88">66.03</text>
<text x="244.24" y="440.88">30.42</text>
<text x="274.31" y="440.88">64.07</text>
<text x="304.38" y="440.88">38.79</text>
<text x="334.45" y="440.88">62.56</text>
<text x="364.51" y="440.88">47.16</text>
<text x="394.58" y="440.88">61.29</text>
<text x="424.65" y="440.88">55.53</text>
<text x="454.71" y="440.88">60.18</text>
<text x="484.78" y="440.88">63.90</text>
<text x="514.85" y="440.88">59.17</text>
<text x="544.91" y="440.88">72.27</text>
<text x="574.98" y="440.88">58.24</text>
<text x="605.05" y="440.88">80.64</text>
<text x="635.11" y="440.88">57.37</text>
<text x="665.18" y="440.88">89.01</text>
<text x="184.44" y="456.51">1400</text>
<text x="214.18" y="456.51">74.52</text>
<text x="244.24" y="456.51">34.07</text>
<text x="274.31" y="456.51">72.56</text>
<text x="304.38" y="456.51">43.44</text>
<text x="334.45" y="456.51">71.06</text>
<text x="364.51" y="456.51">52.82</text>
<text x="394.58" y="456.51">69.79</text>
<text x="424.65" y="456.51">62.19</text>
<text x="454.71" y="456.51">68.67</text>
<text x="484.78" y="456.51">71.57</text>
<text x="514.85" y="456.51">67.66</text>
<text x="544.91" y="456.51">80.94</text>
<text x="574.98" y="456.51">66.73</text>
<text x="605.05" y="456.51">90.32</text>
<text x="635.11" y="456.51">65.86</text>
<text x="665.18" y="456.51">99.69</text>
<text x="184.44" y="472.14">1500</text>
<text x="214.18" y="472.14">80.18</text>
<text x="244.24" y="472.14">36.50</text>
<text x="274.31" y="472.14">78.22</text>
<text x="304.38" y="472.14">45.38</text>
<text x="334.45" y="472.14">76.72</text>
<text x="364.51" y="472.14">56.59</text>
<text x="394.58" y="472.14">75.45</text>
<text x="424.65" y="472.14">66.64</text>
<text x="454.71" y="472.14">74.33</text>
<text x="484.78" y="472.14">76.68</text>
<text x="514.85" y="472.14">73.32</text>
<text x="544.91" y="472.14">86.72</text>
<text x="574.98" y="472.14">72.39</text>
<text x="605.05" y="472.14">96.77</text>
<text x="635.11" y="472.14">71.52</text>
<text x="665.18" y="472.14">106.8</text>
<text class="m" text-anchor="start" x="83.32" y="527.7" textLength="46.63" lengthAdjust="spacingAndGlyphs">DH9030S</text>
<text x="153.16" y="520.8">250</text>
<text x="152.94" y="534.6">(10")</text>
<text x="184.44" y="487.77">850</text>
<text x="214.18" y="487.77">63.04</text>
<text x="244.24" y="487.77">31.99</text>
<text x="274.31" y="487.77">60.19</text>
<text x="304.38" y="487.77">40.17</text>
<text x="334.45" y="487.77">58.00</text>
<text x="364.51" y="487.77">48.36</text>
<text x="394.58" y="487.77">56.16</text>
<text x="424.65" y="487.77">56.54</text>
<text x="454.71" y="487.77">54.53</text>
<text x="484.78" y="487.77">64.73</text>
<text x="514.85" y="487.77">53.06</text>
<text x="544.91" y="487.77">72.91</text>
<text x="184.44" y="503.4">1000</text>
<text x="214.18" y="503.4">75.38</text>
<text x="244.24" y="503.4">37.63</text>
<text x="274.31" y="503.4">72.53</text>
<text x="304.38" y="503.4">47.26</text>
<text x="334.45" y="503.4">70.34</text>
<text x="364.51" y="503.4">56.89</text>
<text x="394.58" y="503.4">68.50</text>
<text x="424.65" y="503.4">66.52</text>
<text x="454.71" y="503.4">66.87</text>
<text x="484.78" y="503.4">76.15</text>
<text x="514.85" y="503.4">65.40</text>
<text x="544.91" y="503.4">85.78</text>
<text x="574.98" y="503.4">64.05</text>
<text x="605.05" y="503.4">95.41</text>
<text x="635.11" y="503.4">62.80</text>
<text x="665.18" y="503.4">105.0</text>
<text x="184.44" y="519.04">1150</text>
<text x="214.18" y="519.04">87.72</text>
<text x="244.24" y="519.04">43.27</text>
<text x="274.31" y="519.04">84.87</text>
<text x="304.38" y="519.04">54.35</text>
<text x="334.45" y="519.04">82.68</text>
<text x="364.51" y="519.04">65.42</text>
<text x="394.58" y="519.04">80.84</text>
<text x="424.65" y="519.04">76.50</text>
<text x="454.71" y="519.04">79.21</text>
<text x="484.78" y="519.04">87.57</text>
<text x="514.85" y="519.04">77.74</text>
<text x="544.91" y="519.04">98.65</text>
<text x="574.98" y="519.04">76.39</text>
<text x="605.05" y="519.04">109.7</text>
<text x="635.11" y="519.04">75.14</text>
<text x="665.18" y="519.04">120.8</text>
<text x="184.44" y="534.67">1250</text>
<text x="214.18" y="534.67">95.95</text>
<text x="244.24" y="534.67">47.04</text>
<text x="274.31" y="534.67">93.09</text>
<text x="304.38" y="534.67">59.08</text>
<text x="334.45" y="534.67">90.91</text>
<text x="364.51" y="534.67">71.11</text>
<text x="394.58" y="534.67">89.06</text>
<text x="424.65" y="534.67">83.15</text>
<text x="454.71" y="534.67">87.44</text>
<text x="484.78" y="534.67">95.19</text>
<text x="514.85" y="534.67">85.97</text>
<text x="544.91" y="534.67">107.2</text>
<text x="574.98" y="534.67">84.62</text>
<text x="605.05" y="534.67">119.3</text>
<text x="635.11" y="534.67">83.36</text>
<text x="665.18" y="534.67">131.3</text>
<text x="184.44" y="550.3">1400</text>
<text x="214.18" y="550.3">108.3</text>
<text x="244.24" y="550.3">52.68</text>
<text x="274.31" y="550.3">105.4</text>
<text x="304.38" y="550.3">66.16</text>
<text x="334.45" y="550.3">103.2</text>
<text x="364.51" y="550.3">79.65</text>
<text x="394.58" y="550.3">101.4</text>
<text x="424.65" y="550.3">93.13</text>
<text x="454.71" y="550.3">99.78</text>
<text x="484.78" y="550.3">106.6</text>
<text x="514.85" y="550.3">98.31</text>
<text x="544.91" y="550.3">117.6</text>
<text x="574.98" y="550.3">96.96</text>
<text x="605.05" y="550.3">133.6</text>
<text x="635.11" y="550.3">95.70</text>
<text x="665.18" y="550.3">147.1</text>
<text x="184.44" y="565.93">1500</text>
<text x="214.18" y="565.93">116.5</text>
<text x="244.24" y="565.93">56.45</text>
<text x="274.31" y="565.93">113.7</text>
<text x="304.38" y="565.93">70.89</text>
<text x="334.45" y="565.93">111.5</text>
<text x="364.51" y="565.93">85.34</text>
<text x="394.58" y="565.93">109.6</text>
<text x="424.65" y="565.93">99.78</text>
<text x="454.71" y="565.93">108.0</text>
<text x="484.78" y="565.93">114.2</text>
<text x="514.85" y="565.93">106.5</text>
<text x="544.91" y="565.93">128.7</text>
<text x="574.98" y="565.93">105.2</text>
<text x="605.05" y="565.93">143.1</text>
<text x="635.11" y="565.93">103.9</text>
<text x="665.18" y="565.93">157.6</text>
<text class="m" text-anchor="start" x="81.71" y="622.08" textLength="52.09" lengthAdjust="spacingAndGlyphs">DH10027S</text>
<text x="153.16" y="612.98">300</text>
<text x="152.94" y="626.48">(12")</text>
<text x="184.44" y="581.56">850</text>
<text x="214.18" y="581.56">73.94</text>
<text x="244.24" y="581.56">40.13</text>
<text x="274.31" y="581.56">70.86</text>
<text x="304.38" y="581.56">49.65</text>
<text x="334.45" y="581.56">68.50</text>
<text x="364.51" y="581.56">59.18</text>
<text x="394.58" y="581.56">66.51</text>
<text x="424.65" y="581.56">68.71</text>
<text x="454.71" y="581.56">64.75</text>
<text x="484.78" y="581.56">78.24</text>
<text x="514.85" y="581.56">63.16</text>
<text x="544.91" y="581.56">87.76</text>
<text x="184.44" y="597.19">1000</text>
<text x="214.18" y="597.19">88.31</text>
<text x="244.24" y="597.19">47.21</text>
<text x="274.31" y="597.19">85.22</text>
<text x="304.38" y="597.19">58.42</text>
<text x="334.45" y="597.19">82.86</text>
<text x="364.51" y="597.19">69.63</text>
<text x="394.58" y="597.19">80.87</text>
<text x="424.65" y="597.19">80.83</text>
<text x="454.71" y="597.19">79.11</text>
<text x="484.78" y="597.19">92.04</text>
<text x="514.85" y="597.19">77.52</text>
<text x="544.91" y="597.19">103.3</text>
<text x="184.44" y="612.82">1150</text>
<text x="214.18" y="612.82">102.7</text>
<text x="244.24" y="612.82">54.29</text>
<text x="274.31" y="612.82">99.59</text>
<text x="304.38" y="612.82">67.18</text>
<text x="334.45" y="612.82">97.22</text>
<text x="364.51" y="612.82">80.07</text>
<text x="394.58" y="612.82">95.23</text>
<text x="424.65" y="612.82">92.96</text>
<text x="454.71" y="612.82">93.47</text>
<text x="484.78" y="612.82">105.8</text>
<text x="514.85" y="612.82">91.89</text>
<text x="544.91" y="612.82">118.7</text>
<text x="574.98" y="612.82">90.43</text>
<text x="605.05" y="612.82">131.6</text>
<text x="635.11" y="612.82">89.07</text>
<text x="665.18" y="612.82">144.5</text>
<text x="184.44" y="628.45">1250</text>
<text x="214.18" y="628.45">112.2</text>
<text x="244.24" y="628.45">59.01</text>
<text x="274.31" y="628.45">109.2</text>
<text x="304.38" y="628.45">73.02</text>
<text x="334.45" y="628.45">106.8</text>
<text x="364.51" y="628.45">87.03</text>
<text x="394.58" y="628.45">104.8</text>
<text x="424.65" y="628.45">101.0</text>
<text x="454.71" y="628.45">103.0</text>
<text x="484.78" y="628.45">115.1</text>
<text x="514.85" y="628.45">101.5</text>
<text x="544.91" y="628.45">129.1</text>
<text x="574.98" y="628.45">100.0</text>
<text x="605.05" y="628.45">143.1</text>
<text x="635.11" y="628.45">98.64</text>
<text x="665.18" y="628.45">157.1</text>
<text x="184.44" y="644.08">1400</text>
<text x="214.18" y="644.08">126.6</text>
<text x="244.24" y="644.08">66.09</text>
<text x="274.31" y="644.08">123.5</text>
<text x="304.38" y="644.08">81.78</text>
<text x="334.45" y="644.08">121.2</text>
<text x="364.51" y="644.08">97.48</text>
<text x="394.58" y="644.08">119.2</text>
<text x="424.65" y="644.08">113.2</text>
<text x="454.71" y="644.08">117.4</text>
<text x="484.78" y="644.08">128.9</text>
<text x="514.85" y="644.08">115.8</text>
<text x="544.91" y="644.08">144.6</text>
<text x="574.98" y="644.08">114.4</text>
<text x="605.05" y="644.08">160.2</text>
<text x="635.11" y="644.08">113.0</text>
<text x="665.18" y="644.08">175.9</text>
<text x="184.44" y="659.71">1500</text>
<text x="214.18" y="659.71">136.2</text>
<text x="244.24" y="659.71">70.81</text>
<text x="274.31" y="659.71">133.1</text>
<text x="304.38" y="659.71">87.63</text>
<text x="334.45" y="659.71">130.7</text>
<text x="364.51" y="659.71">104.4</text>
<text x="394.58" y="659.71">128.7</text>
<text x="424.65" y="659.71">121.3</text>
<text x="454.71" y="659.71">127.0</text>
<text x="484.78" y="659.71">138.1</text>
<text x="514.85" y="659.71">125 4</text>
<text x="544.91" y="659.71">154.9</text>
<text x="574.98" y="659.71">123.9</text>
<text x="605.05" y="659.71">171.7</text>
<text class="m" text-anchor="start" x="81.71" y="714.46" textLength="52.09" lengthAdjust="spacingAndGlyphs">DH10034S</text>
<text x="153.16" y="707.86">350</text>
<text x="152.94" y="721.06">(14")</text>
<text x="184.44" y="675.34">700</text>
<text x="214.18" y="675.34">85.64</text>
<text x="244.24" y="675.34">44.77</text>
<text x="274.31" y="675.34">81.59</text>
<text x="304.38" y="675.34">55.94</text>
<text x="334.45" y="675.34">78.48</text>
<text x="364.51" y="675.34">67.11</text>
<text x="394.58" y="675.34">75.86</text>
<text x="424.65" y="675.34">78.28</text>
<text x="454.71" y="675.34">73.55</text>
<text x="484.78" y="675.34">89.45</text>
<text x="514.85" y="675.34">71.47</text>
<text x="544.91" y="675.34">100.6</text>
<text x="184.44" y="690.97">850</text>
<text x="214.18" y="690.97">106.1</text>
<text x="244.24" y="690.97">54.36</text>
<text x="274.31" y="690.97">102.0</text>
<text x="304.38" y="690.97">67.93</text>
<text x="334.45" y="690.97">98.92</text>
<text x="364.51" y="690.97">81.49</text>
<text x="394.58" y="690.97">96.31</text>
<text x="424.65" y="690.97">95.05</text>
<text x="454.71" y="690.97">94.00</text>
<text x="484.78" y="690.97">108.6</text>
<text x="514.85" y="690.97">91.91</text>
<text x="544.91" y="690.97">122.2</text>
<text x="184.44" y="706.6">1000</text>
<text x="214.18" y="706.6">126.5</text>
<text x="244.24" y="706.6">63.96</text>
<text x="274.31" y="706.6">122.5</text>
<text x="304.38" y="706.6">79.91</text>
<text x="334.45" y="706.6">119.4</text>
<text x="364.51" y="706.6">95.87</text>
<text x="394.58" y="706.6">116.8</text>
<text x="424.65" y="706.6">111.8</text>
<text x="454.71" y="706.6">114.4</text>
<text x="484.78" y="706.6">127.8</text>
<text x="514.85" y="706.6">112.4</text>
<text x="544.91" y="706.6">143.7</text>
<text x="574.98" y="706.6">110.4</text>
<text x="605.05" y="706.6">159.7</text>
<text x="635.11" y="706.6">108.7</text>
<text x="665.18" y="706.6">175.7</text>
<text x="184.44" y="722.23">1150</text>
<text x="214.18" y="722.23">147.0</text>
<text x="244.24" y="722.23">73.55</text>
<text x="274.31" y="722.23">142.9</text>
<text x="304.38" y="722.23">91.90</text>
<text x="334.45" y="722.23">139.8</text>
<text x="364.51" y="722.23">110.2</text>
<text x="394.58" y="722.23">137.2</text>
<text x="424.65" y="722.23">128.6</text>
<text x="454.71" y="722.23">134.9</text>
<text x="484.78" y="722.23">146.9</text>
<text x="514.85" y="722.23">132.8</text>
<text x="544.91" y="722.23">165.3</text>
<text x="574.98" y="722.23">130.9</text>
<text x="605.05" y="722.23">183.6</text>
<text x="635.11" y="722.23">129.1</text>
<text x="665.18" y="722.23">202.0</text>
<text x="184.44" y="737.86">1250</text>
<text x="214.18" y="737.86">160.6</text>
<text x="244.24" y="737.86">79.95</text>
<text x="274.31" y="737.86">156.6</text>
<text x="304.38" y="737.86">99.89</text>
<text x="334.45" y="737.86">153.4</text>
<text x="364.51" y="737.86">119.8</text>
<text x="394.58" y="737.86">150.8</text>
<text x="424.65" y="737.86">139.8</text>
<text x="454.71" y="737.86">148.5</text>
<text x="484.78" y="737.86">159.7</text>
<text x="514.85" y="737.86">146.4</text>
<text x="544.91" y="737.86">179.7</text>
<text x="574.98" y="737.86">144.5</text>
<text x="605.05" y="737.86">199.6</text>
<text x="635.11" y="737.86">142.7</text>
<text x="665.18" y="737.86">219.6</text>
<text x="184.44" y="753.49">1400</text>
<text x="214.18" y="753.49">181.0</text>
<text x="244.24" y="753.49">89.54</text>
<text x="274.31" y="753.49">177.0</text>
<text x="304.38" y="753.49">111.9</text>
<text x="334.45" y="753.49">173.9</text>
<text x="364.51" y="753.49">134.2</text>
<text x="394.58" y="753.49">171.3</text>
<text x="424.65" y="753.49">156.6</text>
<text x="454.71" y="753.49">169.0</text>
<text x="484.78" y="753.49">178.9</text>
<text x="514.85" y="753.49">166.9</text>
<text x="544.91" y="753.49">201.2</text>
<text x="574.98" y="753.49">165.0</text>
<text x="605.05" y="753.49">223.6</text>
<text x="635.11" y="753.49">163.2</text>
<text x="665.18" y="753.49">245.9</text>
</g>
<g>
<rect x="74.4" y="783.4" width="23.39" height="15.2" fill="#fdf9ea"/>
<rect x="97.79" y="783.4" width="23.39" height="15.2" fill="#7dcdf3"/>
<rect x="121.18" y="783.4" width="23.39" height="15.2" fill="#def1ea"/>
<rect x="144.57" y="783.4" width="23.39" height="15.2" fill="#fde6d6"/>
<rect x="167.97" y="783.4" width="23.39" height="15.2" fill="#fff000"/>
<rect x="191.36" y="783.4" width="23.39" height="15.2" fill="#cddcf3"/>
<rect x="214.75" y="783.4" width="23.39" height="15.2" fill="#efb800"/>
<rect x="238.14" y="783.4" width="23.39" height="15.2" fill="#a36bb3"/>
<rect x="261.53" y="783.4" width="23.39" height="15.2" fill="#dcdddd"/>
<rect x="284.92" y="783.4" width="23.39" height="15.2" fill="#ee86aa"/>
<rect x="308.32" y="783.4" width="23.39" height="15.2" fill="#bac2e8"/>
<rect x="331.71" y="783.4" width="23.39" height="15.2" fill="#9fa0a0"/>
<rect x="355.1" y="783.4" width="23.39" height="15.2" fill="#bfdf9b"/>
<rect x="378.49" y="783.4" width="23.39" height="15.2" fill="#e8790c"/>
<rect x="401.88" y="783.4" width="23.39" height="15.2" fill="#8cc6e4"/>
<rect x="425.27" y="783.4" width="23.39" height="15.2" fill="#ffffff"/>
<rect x="448.67" y="783.4" width="23.39" height="15.2" fill="#a89a5e"/>
<rect x="472.06" y="783.4" width="23.39" height="15.2" fill="#74c8b8"/>
<rect x="495.45" y="783.4" width="23.39" height="15.2" fill="#b3cd2a"/>
<rect x="518.84" y="783.4" width="23.39" height="15.2" fill="#a89bd2"/>
<rect x="542.23" y="783.4" width="23.39" height="15.2" fill="#e4068d"/>
<rect x="565.62" y="783.4" width="23.39" height="15.2" fill="#00964a"/>
<rect x="589.02" y="783.4" width="23.39" height="15.2" fill="#fde1d2"/>
<rect x="612.41" y="783.4" width="23.39" height="15.2" fill="#8b4b28"/>
</g>
<g stroke="#3c3c3c" stroke-width="0.78" fill="none">
<rect x="74.4" y="783.4" width="561.4" height="15.2"/>
<path d="M97.79 783.4L97.79 798.6"/>
<path d="M121.18 783.4L121.18 798.6"/>
<path d="M144.57 783.4L144.57 798.6"/>
<path d="M167.97 783.4L167.97 798.6"/>
<path d="M191.36 783.4L191.36 798.6"/>
<path d="M214.75 783.4L214.75 798.6"/>
<path d="M238.14 783.4L238.14 798.6"/>
<path d="M261.53 783.4L261.53 798.6"/>
<path d="M284.92 783.4L284.92 798.6"/>
<path d="M308.32 783.4L308.32 798.6"/>
<path d="M331.71 783.4L331.71 798.6"/>
<path d="M355.1 783.4L355.1 798.6"/>
<path d="M378.49 783.4L378.49 798.6"/>
<path d="M401.88 783.4L401.88 798.6"/>
<path d="M425.27 783.4L425.27 798.6"/>
<path d="M448.67 783.4L448.67 798.6"/>
<path d="M472.06 783.4L472.06 798.6"/>
<path d="M495.45 783.4L495.45 798.6"/>
<path d="M518.84 783.4L518.84 798.6"/>
<path d="M542.23 783.4L542.23 798.6"/>
<path d="M565.62 783.4L565.62 798.6"/>
<path d="M589.02 783.4L589.02 798.6"/>
<path d="M612.41 783.4L612.41 798.6"/>
</g>
<g class="d" fill="#1c1c1c" text-anchor="middle" transform="scale(0.935 1)">
<text x="92.3" y="794.25">1.5</text>
<text x="117.31" y="794.25">2.2</text>
<text x="142.33" y="794.25">3</text>
<text x="167.35" y="794.25">4</text>
<text x="192.37" y="794.25">5.5</text>
<text x="217.38" y="794.25">7.5</text>
<text x="242.4" y="794.25">11</text>
<text x="267.42" y="794.25">15</text>
<text x="292.44" y="794.25">18.5</text>
<text x="317.46" y="794.25">22</text>
<text x="342.47" y="794.25">30</text>
<text x="367.49" y="794.25">37</text>
<text x="392.51" y="794.25">45</text>
<text x="417.53" y="794.25">55</text>
<text x="442.54" y="794.25">75</text>
<text x="467.56" y="794.25">90</text>
<text x="492.58" y="794.25">110</text>
<text x="517.6" y="794.25">132</text>
<text x="542.62" y="794.25">160</text>
<text x="567.63" y="794.25">185</text>
<text x="592.65" y="794.25">200</text>
<text x="617.67" y="794.25">220</text>
<text x="642.69" y="794.25">250</text>
<text x="667.7" y="794.25">280</text>
</g>
<g fill="#1c1c1c">
<text x="74.4" y="778.4" class="lg" textLength="88.8" lengthAdjust="spacingAndGlyphs">各颜色对应电机功率</text>
<text x="165.8" y="778.4" class="ll" textLength="2.8" lengthAdjust="spacingAndGlyphs">(</text>
<text x="172.9" y="778.4" class="ll" textLength="15" lengthAdjust="spacingAndGlyphs">KW</text>
<text x="191.6" y="778.4" class="ll" textLength="2.8" lengthAdjust="spacingAndGlyphs">)</text>
<text x="197.7" y="778.4" class="ll" textLength="29.1" lengthAdjust="spacingAndGlyphs">Motor</text>
<text x="231.2" y="778.4" class="ll" textLength="28.3" lengthAdjust="spacingAndGlyphs">Power</text>
<text x="263.3" y="778.4" class="ll" textLength="42.4" lengthAdjust="spacingAndGlyphs">indicated</text>
<text x="309.3" y="778.4" class="ll" textLength="9.7" lengthAdjust="spacingAndGlyphs">by</text>
<text x="322.7" y="778.4" class="ll" textLength="21" lengthAdjust="spacingAndGlyphs">each</text>
<text x="347.6" y="778.4" class="ll" textLength="24" lengthAdjust="spacingAndGlyphs">color</text>
</g>
<text class="sb" fill="#1a1a1a" transform="translate(32.8 356.3) rotate(90)" x="0" y="0" textLength="209.5" lengthAdjust="spacingAndGlyphs">DH Type Performance Parameters Sheet</text>
</svg>
<div class="vt"><span class="la">DH</span><span class="cj">型性能表</span></div>
</body>
</html>
